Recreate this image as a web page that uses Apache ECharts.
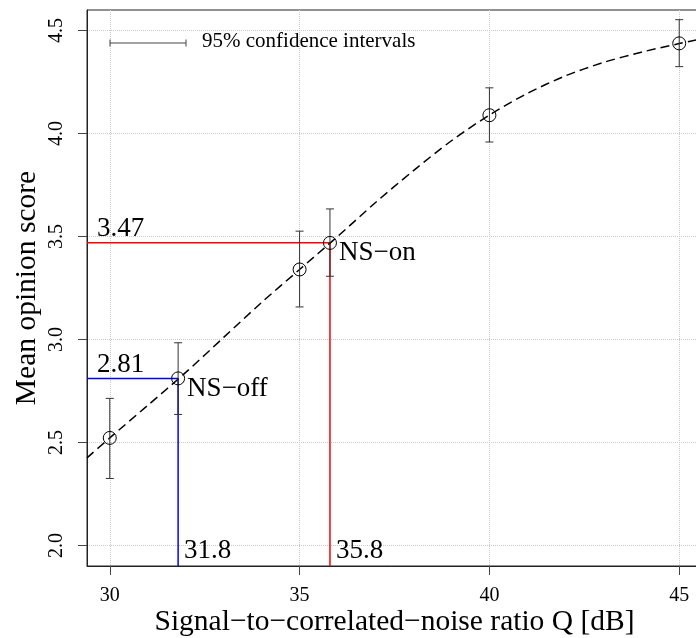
<!DOCTYPE html>
<html>
<head>
<meta charset="utf-8">
<script src="https://cdn.jsdelivr.net/npm/echarts@6/dist/echarts.min.js"></script>
<style>
html,body{margin:0;padding:0;background:#fff;}
#chart{width:696px;height:638px;}
</style>
</head>
<body>
<div id="chart"></div>
<script>
// ---- data ----
var pointQ   = [30, 31.8, 35, 35.8, 40, 45];
var pointMos = [2.522, 2.811, 3.34, 3.469, 4.089, 4.438];
var ciLow    = [2.325, 2.636, 3.158, 3.307, 3.959, 4.325];
var ciHigh   = [2.714, 2.984, 3.526, 3.634, 4.222, 4.553];

var curveQ   = [29.4, 30, 31, 32, 33, 34, 35, 36, 37, 38, 39, 40, 41, 42, 43, 44, 45, 45.6];
var curveMos = [2.425, 2.522, 2.68, 2.84, 3.01, 3.18, 3.34, 3.50, 3.665, 3.82, 3.965, 4.09, 4.195, 4.28, 4.345, 4.395, 4.437, 4.46];

var nsOffQ = 31.8, nsOffMos = 2.81;
var nsOnQ  = 35.8, nsOnMos  = 3.47;

var xTicks = [30, 35, 40, 45];
var yTicks = [2.0, 2.5, 3.0, 3.5, 4.0, 4.5];
var xMin = 29.4, xMax = 45.6, yMin = 1.9, yMax = 4.6;

var serif = '"Liberation Serif", "DejaVu Serif", serif';

// ---- build ----
var curveData = curveQ.map(function (q, i) { return [q, curveMos[i]]; });
var pointData = pointQ.map(function (q, i) { return [q, pointMos[i]]; });
var ciData = pointQ.map(function (q, i) { return [q, ciLow[i], ciHigh[i]]; });

var chart = echarts.init(document.getElementById('chart'), null, {renderer: 'canvas'});

function guide(q, m, color) {
  return {
    type: 'line', data: [[xMin, m], [q, m], [q, yMin]],
    symbol: 'none', silent: true, animation: false, z: 3,
    lineStyle: {color: color, width: 1.5}
  };
}

function annot(data, label) {
  return {
    type: 'scatter', data: data, symbolSize: 0, silent: true, animation: false, z: 6,
    itemStyle: {opacity: 1},
    label: Object.assign({show: true, fontFamily: serif, color: '#000', opacity: 1}, label)
  };
}

var option = {
  animation: false,
  backgroundColor: '#fff',
  grid: {left: 87, top: 10, width: 615, height: 556, show: true, borderColor: '#222', borderWidth: 1,
    containLabel: false, outerBoundsMode: 'none'},
  xAxis: {
    type: 'value', min: xMin, max: xMax,
    name: 'Signal\u2212to\u2212correlated\u2212noise ratio Q [dB]',
    nameLocation: 'middle', nameGap: 41, nameMoveOverlap: false,
    nameTextStyle: {fontFamily: serif, fontSize: 29.5, color: '#000'},
    axisLine: {show: true, onZero: false, lineStyle: {color: '#222', width: 1}},
    axisTick: {show: true, length: 9, customValues: xTicks, lineStyle: {color: '#444'}},
    axisLabel: {customValues: xTicks, fontFamily: serif, fontSize: 20, color: '#000', margin: 20},
    splitLine: {show: true, lineStyle: {color: '#c8c8c8', type: 'dotted', width: 1}}
  },
  yAxis: {
    type: 'value', min: yMin, max: yMax,
    name: 'Mean opinion score',
    nameLocation: 'middle', nameGap: 45, nameRotate: 90, nameMoveOverlap: false,
    nameTextStyle: {fontFamily: serif, fontSize: 29.5, color: '#000'},
    axisLine: {show: true, onZero: false, lineStyle: {color: '#222', width: 1}},
    axisTick: {show: true, length: 9, customValues: yTicks, lineStyle: {color: '#444'}},
    axisLabel: {customValues: yTicks, rotate: 90, fontFamily: serif, fontSize: 20, color: '#000', margin: 20,
      formatter: function (v) { return Number(v).toFixed(1); }},
    splitLine: {show: true, lineStyle: {color: '#c8c8c8', type: 'dotted', width: 1}}
  },
  series: [
    {
      type: 'line', data: curveData, smooth: 0.3, symbol: 'none', silent: true, z: 4,
      lineStyle: {color: '#000', width: 1.5, type: [9, 5]}
    },
    guide(nsOnQ, nsOnMos, '#ff0000'),
    guide(nsOffQ, nsOffMos, '#0000ff'),
    {
      type: 'custom', data: ciData, silent: true, z: 5, clip: false,
      renderItem: function (params, api) {
        var x = api.value(0);
        var p1 = api.coord([x, api.value(1)]);
        var p2 = api.coord([x, api.value(2)]);
        var w = 4;
        var st = {stroke: '#333', lineWidth: 1};
        return {
          type: 'group', children: [
            {type: 'line', shape: {x1: p1[0], y1: p1[1], x2: p2[0], y2: p2[1]}, style: st},
            {type: 'line', shape: {x1: p1[0] - w, y1: p1[1], x2: p1[0] + w, y2: p1[1]}, style: st},
            {type: 'line', shape: {x1: p2[0] - w, y1: p2[1], x2: p2[0] + w, y2: p2[1]}, style: st}
          ]
        };
      }
    },
    {
      type: 'scatter', data: pointData, symbol: 'circle', symbolSize: 13, silent: true, z: 6,
      itemStyle: {color: 'rgba(0,0,0,0)', borderColor: '#000', borderWidth: 1, opacity: 1}
    },
    annot([[xMin, nsOnMos], [xMin, nsOffMos]], {
      fontSize: 27, position: [10, 0], align: 'left', verticalAlign: 'bottom',
      formatter: function (p) { return p.value[1].toFixed(2); }
    }),
    annot([[nsOffQ, yMin], [nsOnQ, yMin]], {
      fontSize: 27, position: [6, -2], align: 'left', verticalAlign: 'bottom',
      formatter: function (p) { return p.value[0].toFixed(1); }
    }),
    annot([{value: [nsOnQ, nsOnMos], name: 'NS\u2212on'}, {value: [nsOffQ, nsOffMos], name: 'NS\u2212off'}], {
      fontSize: 27, position: [9, 10], align: 'left', verticalAlign: 'middle',
      formatter: function (p) { return p.name; }
    })
  ],
  graphic: [
    {type: 'line', shape: {x1: 110, y1: 43, x2: 186, y2: 43}, style: {stroke: '#444', lineWidth: 1}, z: 10},
    {type: 'line', shape: {x1: 110, y1: 39.5, x2: 110, y2: 46.5}, style: {stroke: '#444', lineWidth: 1}, z: 10},
    {type: 'line', shape: {x1: 186, y1: 39.5, x2: 186, y2: 46.5}, style: {stroke: '#444', lineWidth: 1}, z: 10},
    {type: 'text', left: 202, top: 31, style: {text: '95% confidence intervals', font: '21px ' + serif, fill: '#000'}, z: 10}
  ]
};
chart.setOption(option);
</script>
</body>
</html>
